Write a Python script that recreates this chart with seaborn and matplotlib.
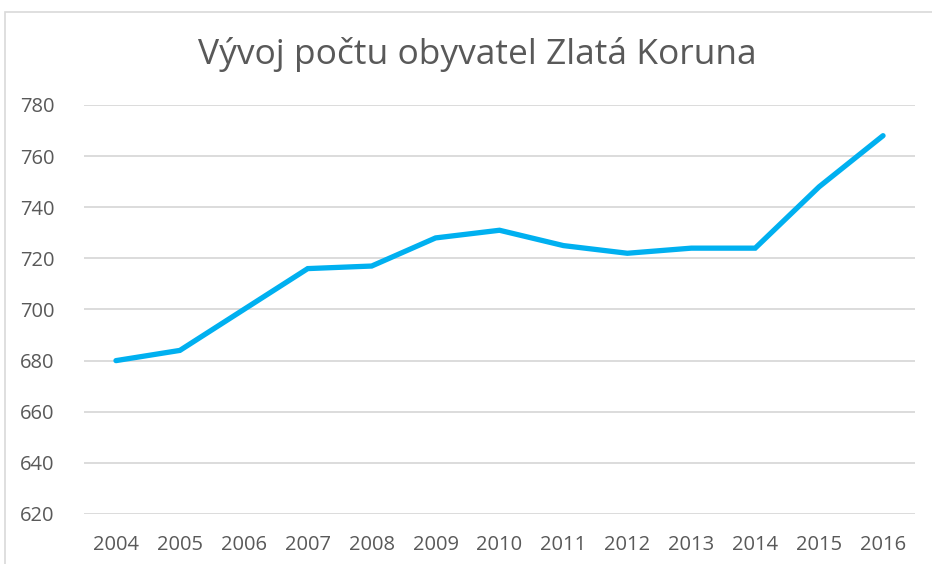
import matplotlib

matplotlib.use("Agg")
import matplotlib.pyplot as plt
import pandas as pd
import seaborn as sns
from matplotlib.patches import Rectangle

years = ["2004", "2005", "2006", "2007", "2008", "2009", "2010",
         "2011", "2012", "2013", "2014", "2015", "2016"]
population = [680, 684, 700, 716, 717, 728, 731, 725, 722, 724, 724, 748, 768]
y_ticks = [620, 640, 660, 680, 700, 720, 740, 760, 780]
title = "Vývoj počtu obyvatel Zlatá Koruna"

sns.set_theme(style="white")
plt.rcParams["font.family"] = ["Open Sans", "DejaVu Sans"]

frame = pd.DataFrame({"year": years, "population": population})

fig = plt.figure(figsize=(9.32, 5.64), dpi=100)
W, H = 932, 564
ax = fig.add_axes([84 / W, 1 - 514 / H, (915 - 84) / W, (514 - 105) / H])

sns.lineplot(data=frame, x="year", y="population", ax=ax, color="#00B0F0",
             linewidth=3.8, solid_capstyle="round", solid_joinstyle="miter", sort=False)

ax.set_xlim(-0.5, len(years) - 0.5)
ax.set_ylim(y_ticks[0], y_ticks[-1])
ax.set_yticks(y_ticks)
ax.yaxis.grid(True, color="#D9D9D9", linewidth=1.3)
ax.set_axisbelow(True)
for side in ax.spines.values():
    side.set_visible(False)
ax.tick_params(axis="both", length=0, labelsize=14.5, labelcolor="#595959")
ax.tick_params(axis="y", pad=21)
ax.tick_params(axis="x", pad=15)
ax.set_xlabel("")
ax.set_ylabel("")

fig.text(477 / W, 1 - 55 / H, title, ha="center", va="center", fontsize=25.5, color="#595959")

fig.patches.append(Rectangle((5 / W, -0.1), 1.2, 1 - 12 / H + 0.1, transform=fig.transFigure,
                             fill=False, edgecolor="#D9D9D9", linewidth=1.2))

fig.savefig("out.png", dpi=100)
